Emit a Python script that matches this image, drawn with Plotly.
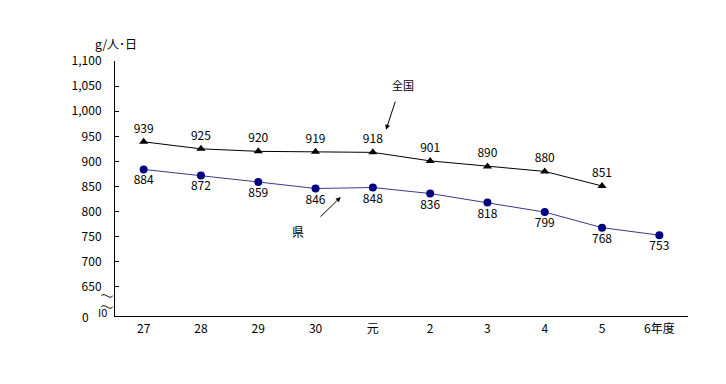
import plotly.graph_objects as go

categories = ["27", "28", "29", "30", "元", "2", "3", "4", "5", "6年度"]
national = [939, 925, 920, 919, 918, 901, 890, 880, 851, None]
prefecture = [884, 872, 859, 846, 848, 836, 818, 799, 768, 753]
tick_vals = [650, 700, 750, 800, 850, 900, 950, 1000, 1050, 1100]
tick_text = ["650", "700", "750", "800", "850", "900", "950", "1,000", "1,050", "1,100"]

FONT = "Noto Sans CJK JP"
x = list(range(len(categories)))

fig = go.Figure()
fig.add_trace(go.Scatter(
    x=x, y=national, mode="lines+markers+text",
    line=dict(color="#000000", width=1),
    marker=dict(symbol="triangle-up", size=8, color="#000000"),
    text=[str(v) if v is not None else "" for v in national],
    textposition="top center", textfont=dict(size=12, color="#000000", family=FONT),
    showlegend=False, cliponaxis=False))
fig.add_trace(go.Scatter(
    x=x, y=prefecture, mode="lines+markers+text",
    line=dict(color="#3a3a8a", width=1),
    marker=dict(symbol="circle", size=8, color="#000080"),
    text=[str(v) for v in prefecture],
    textposition="bottom center", textfont=dict(size=12, color="#000000", family=FONT),
    showlegend=False, cliponaxis=False))


def tilde(yc):
    x0, x1 = -0.024, -0.004
    w = x1 - x0
    return dict(type="path", xref="paper", yref="y",
                path=f"M {x0},{yc} C {x0 + w/3},{yc + 9} {x0 + 2*w/3},{yc - 9} {x1},{yc}",
                line=dict(color="#000000", width=1))


fig.update_layout(
    width=726, height=384,
    margin=dict(l=107, r=46, t=53, b=76),
    paper_bgcolor="white", plot_bgcolor="white",
    font=dict(family=FONT, size=12, color="#000000"),
    xaxis=dict(range=[-0.5, 9.5], tickvals=x, ticktext=categories,
               showline=True, linecolor="#000000", linewidth=1,
               showgrid=False, zeroline=False, ticks="", ticklen=0,
               ticklabelstandoff=2),
    yaxis=dict(range=[592, 1100], tickvals=tick_vals, ticktext=tick_text,
               showline=True, linecolor="#000000", linewidth=1,
               showgrid=False, zeroline=False, ticks="inside", ticklen=4,
               tickcolor="#000000", ticklabelstandoff=10),
    shapes=[tilde(632), tilde(610)],
    annotations=[
        dict(xref="paper", yref="paper", x=0, y=1, xshift=-22, yshift=28,
             text="g/人･日", showarrow=False, font=dict(size=12)),
        dict(xref="paper", yref="y", x=0, y=592, xshift=-35, text="0",
             showarrow=False, font=dict(size=12)),
        dict(xref="paper", yref="y", x=0, y=599, xshift=-19, text="I0",
             showarrow=False, font=dict(size=11)),
        dict(xref="x", yref="y", x=4.23, y=963, ax=4.40, ay=1022,
             axref="x", ayref="y", text="", showarrow=True,
             arrowhead=2, arrowsize=1, arrowwidth=1, arrowcolor="#000000"),
        dict(xref="x", yref="y", x=4.53, y=1052, text="全国",
             showarrow=False, font=dict(size=11)),
        dict(xref="x", yref="y", x=3.44, y=829, ax=3.06, ay=787,
             axref="x", ayref="y", text="", showarrow=True,
             arrowhead=2, arrowsize=1, arrowwidth=1, arrowcolor="#000000"),
        dict(xref="x", yref="y", x=2.69, y=761, text="県",
             showarrow=False, font=dict(size=12)),
    ],
)

fig.write_html("out.html")
